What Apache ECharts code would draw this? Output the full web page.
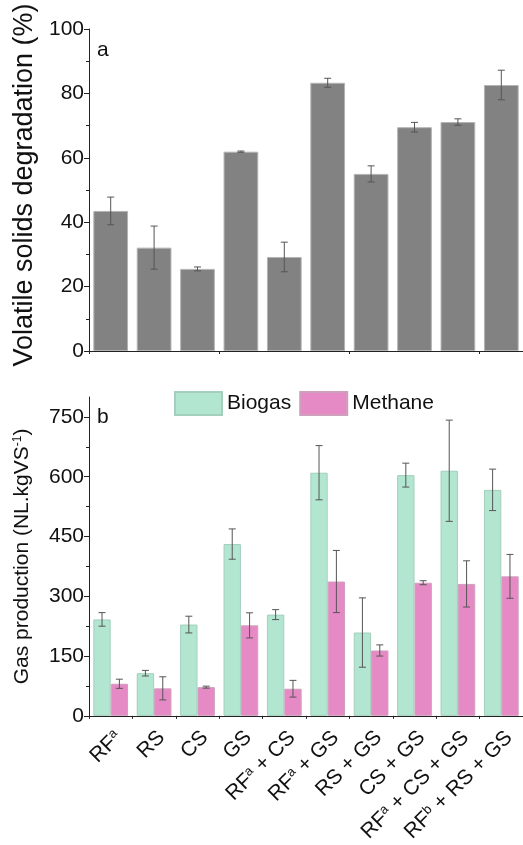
<!DOCTYPE html>
<html>
<head>
<meta charset="utf-8">
<script src="https://cdn.jsdelivr.net/npm/echarts@6/dist/echarts.min.js"></script>
<style>
html,body{margin:0;padding:0;background:#fff;}
#chart{width:523px;height:845px;}
</style>
</head>
<body>
<div id="chart"></div>
<script>
// categories (^ marks a superscript)
var categories = ['RF^a','RS','CS','GS','RF^a + CS','RF^a + GS','RS + GS','CS + GS','RF^a + CS + GS','RF^b + RS + GS'];

// panel a: volatile solids degradation (%)
var vsDeg    = [43.5, 32.1, 25.5, 61.9, 29.2, 83.3, 55.0, 69.5, 71.1, 82.6];
var vsDegErr = [4.3, 6.7, 0.6, 0.2, 4.6, 1.4, 2.5, 1.5, 1.0, 4.6];

// panel b: gas production (NL.kgVS-1)
var biogas     = [242, 107, 229, 431, 254, 610, 209, 604, 615, 567];
var biogasErr  = [17, 7, 21, 38, 12.5, 68, 87, 30, 127, 52];
var methane    = [80.5, 69, 72, 227, 68, 337, 164, 334, 331, 350];
var methaneErr = [11.5, 29, 2.5, 31.5, 21, 78, 14, 5, 58, 55];

var yTicksB = [0, 150, 300, 450, 600, 750];
var yMinorB = [75, 225, 375, 525, 675];

var FONT = 'Liberation Sans';
var AXIS_COLOR = '#222';
var ERR_COLOR = '#555';

function supText(s){
	return s.replace(/\^(\w)/g, '{sup|$1}');
}

// error bar drawn at a bar's center, offset as a fraction of the band
function errorSeries(gridIdx, values, errs, shift){
	var data = values.map(function(v, i){ return [i, v - errs[i], v + errs[i]]; });
	return {
		type: 'custom',
		xAxisIndex: gridIdx,
		yAxisIndex: gridIdx === 0 ? 0 : 1,
		silent: true,
		z: 5,
		data: data,
		renderItem: function(params, api){
			var band = api.size([1, 0])[0];
			var lo = api.coord([api.value(0), api.value(1)]);
			var hi = api.coord([api.value(0), api.value(2)]);
			var x = lo[0] + band * shift;
			var cap = 3.5;
			var st = {stroke: ERR_COLOR, lineWidth: 1};
			return {
				type: 'group',
				children: [
					{type: 'line', shape: {x1: x, y1: lo[1], x2: x, y2: hi[1]}, style: st},
					{type: 'line', shape: {x1: x - cap, y1: lo[1], x2: x + cap, y2: lo[1]}, style: st},
					{type: 'line', shape: {x1: x - cap, y1: hi[1], x2: x + cap, y2: hi[1]}, style: st}
				]
			};
		}
	};
}

var chart = echarts.init(document.getElementById('chart'), null, {renderer: 'canvas'});

var yAxisBase = {
	type: 'value',
	axisLine: {show: true, lineStyle: {color: AXIS_COLOR, width: 1}},
	axisTick: {show: true, inside: false, length: 5, lineStyle: {color: AXIS_COLOR}},
	splitLine: {show: false},
	axisLabel: {color: '#111', fontFamily: FONT, fontSize: 21, margin: 5}
};

chart.setOption({
	animation: false,
	textStyle: {fontFamily: FONT},
	grid: [
		{left: 89, right: -4, top: 29, height: 322},
		{left: 89, right: -4, top: 397, height: 321.5}
	],
	legend: {
		left: 169, top: 386,
		itemWidth: 47, itemHeight: 23, itemGap: 8,
		icon: 'rect',
		textStyle: {fontFamily: FONT, fontSize: 21, color: '#111'},
		data: ['Biogas', 'Methane']
	},
	graphic: [
		{type: 'text', left: 97, top: 40, style: {text: 'a', font: '21px ' + FONT, fill: '#111'}},
		{type: 'text', left: 97, top: 407, style: {text: 'b', font: '21px ' + FONT, fill: '#111'}}
	],
	xAxis: [
		{
			type: 'category', gridIndex: 0, data: categories,
			axisLine: {lineStyle: {color: AXIS_COLOR}},
			axisTick: {show: true, length: 3, lineStyle: {color: AXIS_COLOR}},
			axisLabel: {show: false}
		},
		{
			type: 'category', gridIndex: 1, data: categories,
			axisLine: {lineStyle: {color: AXIS_COLOR}},
			axisTick: {show: true, length: 3, lineStyle: {color: AXIS_COLOR}},
			axisLabel: {
				interval: 0, rotate: 45, margin: 11, verticalAlign: 'top',
				fontFamily: FONT, fontSize: 21, color: '#111',
				formatter: function(v){ return supText(v); },
				rich: {sup: {fontSize: 13, fontFamily: FONT, color: '#111', verticalAlign: 'bottom', padding: [0, 0, 9, 0]}}
			}
		}
	],
	yAxis: [
		Object.assign({}, yAxisBase, {
			gridIndex: 0, min: 0, max: 100, interval: 20,
			minorTick: {show: true, splitNumber: 2, length: 3, lineStyle: {color: AXIS_COLOR}},
			name: 'Volatile solids degradation (%)',
			nameLocation: 'middle', nameGap: 51,
			nameTextStyle: {fontFamily: FONT, fontSize: 27, color: '#111', padding: [0, 0, 0, 10]}
		}),
		Object.assign({}, yAxisBase, {
			gridIndex: 1, min: 0, max: 800,
			axisTick: {show: true, length: 5, lineStyle: {color: AXIS_COLOR}, customValues: yTicksB},
			axisLabel: {color: '#111', fontFamily: FONT, fontSize: 21, margin: 5, customValues: yTicksB},
			name: 'Gas production (NL.kgVS{sup|-1})',
			nameLocation: 'middle', nameGap: 56,
			nameTextStyle: {
				fontFamily: FONT, fontSize: 21, color: '#111',
				rich: {sup: {fontSize: 12, fontFamily: FONT, color: '#111', verticalAlign: 'bottom', padding: [0, 0, 9, 0]}}
			}
		}),
		{
			type: 'value', gridIndex: 1, min: 0, max: 800, position: 'left',
			axisLine: {show: false},
			axisTick: {show: true, length: 3, lineStyle: {color: AXIS_COLOR}, customValues: yMinorB},
			axisLabel: {show: false},
			splitLine: {show: false}
		}
	],
	series: [
		{
			name: 'VS degradation', type: 'bar', xAxisIndex: 0, yAxisIndex: 0,
			data: vsDeg, barCategoryGap: '20%',
			itemStyle: {color: '#828282', borderColor: '#b4b4b4', borderWidth: 1}
		},
		errorSeries(0, vsDeg, vsDegErr, 0),
		{
			name: 'Biogas', type: 'bar', xAxisIndex: 1, yAxisIndex: 1,
			data: biogas, barCategoryGap: '20%', barGap: '0%',
			itemStyle: {color: '#b3e6d0', borderColor: '#a3cfbc', borderWidth: 1}
		},
		{
			name: 'Methane', type: 'bar', xAxisIndex: 1, yAxisIndex: 1,
			data: methane, barCategoryGap: '20%', barGap: '0%',
			itemStyle: {color: '#e68ac5', borderColor: '#cfa0be', borderWidth: 1}
		},
		errorSeries(1, biogas, biogasErr, -0.2),
		errorSeries(1, methane, methaneErr, 0.2)
	]
});
</script>
</body>
</html>
